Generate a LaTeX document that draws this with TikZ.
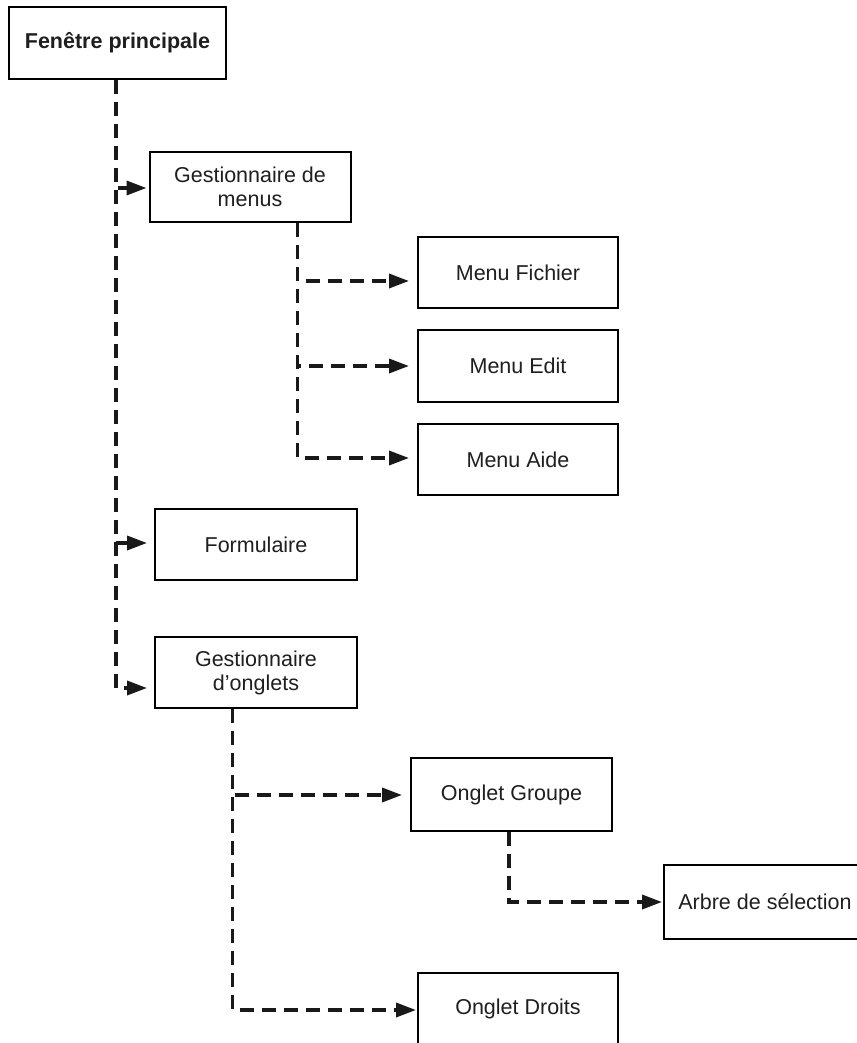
\documentclass[tikz,border=0pt]{standalone}
\usepackage{fontspec}
\setmainfont{Liberation Sans}
\usetikzlibrary{arrows.meta}
\begin{document}
\begin{tikzpicture}[x=1pt,y=-1pt,
  box/.style={draw=black, line width=2pt, fill=white, inner sep=0pt,
    align=center, text=black!88, font=\fontsize{21.5}{24}\selectfont,
    minimum height=71pt, minimum width=201pt},
  conn/.style={draw=black!90, line width=3.5pt, dash pattern=on 14pt off 8pt,
    -{Triangle[length=20pt,width=14pt]}}]
\useasboundingbox (0,0) rectangle (856,1043);

% boxes
\node[box, minimum width=217pt, minimum height=72pt, font=\fontsize{21.5}{24}\selectfont\bfseries] (main) at (117.5,43) {Fenêtre principale};
\node[box, minimum height=70pt] (gmenus) at (250,187) {Gestionnaire de\\menus};
\node[box, minimum width=200pt] (mf) at (518,272.5) {Menu Fichier};
\node[box, minimum width=200pt, minimum height=72pt] (me) at (518,366) {Menu Edit};
\node[box, minimum width=200pt] (ma) at (518,459.5) {Menu Aide};
\node[box, minimum width=202pt] (form) at (256,544.5) {Formulaire};
\node[box, minimum width=202pt] (gong) at (256,672.5) {Gestionnaire\\d’onglets};
\node[box, minimum height=73pt] (og) at (511.5,794.5) {Onglet Groupe};
\node[box, draw=none, fill=none, minimum width=200pt, minimum height=72pt] (arbre) at (765,902) {Arbre de sélection};
% its frame runs on past the right edge of the page
\draw[line width=2pt] (arbre.north west) rectangle ([xshift=30pt]arbre.south east);
\node[box, minimum width=200pt, minimum height=72pt] (od) at (518,1009) {Onglet Droits};

% main window branches
\draw[conn, shorten >=2pt] ([xshift=-1.5pt]main.south) |- ([yshift=-1pt]gmenus.west);
\draw[conn, shorten >=7pt] ([xshift=-1.5pt]main.south) |- ([yshift=1.5pt]form.west);
\draw[conn, shorten >=7pt] ([xshift=-1.5pt]main.south) |- ([yshift=-15.5pt]gong.west);

% menu manager branches
\draw[conn, shorten >=8pt] ([xshift=47.5pt]gmenus.south) |- ([yshift=-8.5pt]mf.west);
\draw[conn, shorten >=8pt] ([xshift=47.5pt]gmenus.south) |- (me.west);
\draw[conn, shorten >=8pt] ([xshift=47.5pt]gmenus.south) |- ([yshift=1.5pt]ma.west);

% tab manager branches
\draw[conn, shorten >=8pt] ([xshift=-23.5pt]gong.south) |- ([yshift=-0.5pt]og.west);
\draw[conn, shorten >=1pt] ([xshift=-23.5pt]gong.south) |- ([yshift=-1pt]od.west);

% group tab branch
\draw[conn, shorten >=2pt] ([xshift=-2.5pt]og.south) |- (arbre.west);
\end{tikzpicture}
\end{document}
